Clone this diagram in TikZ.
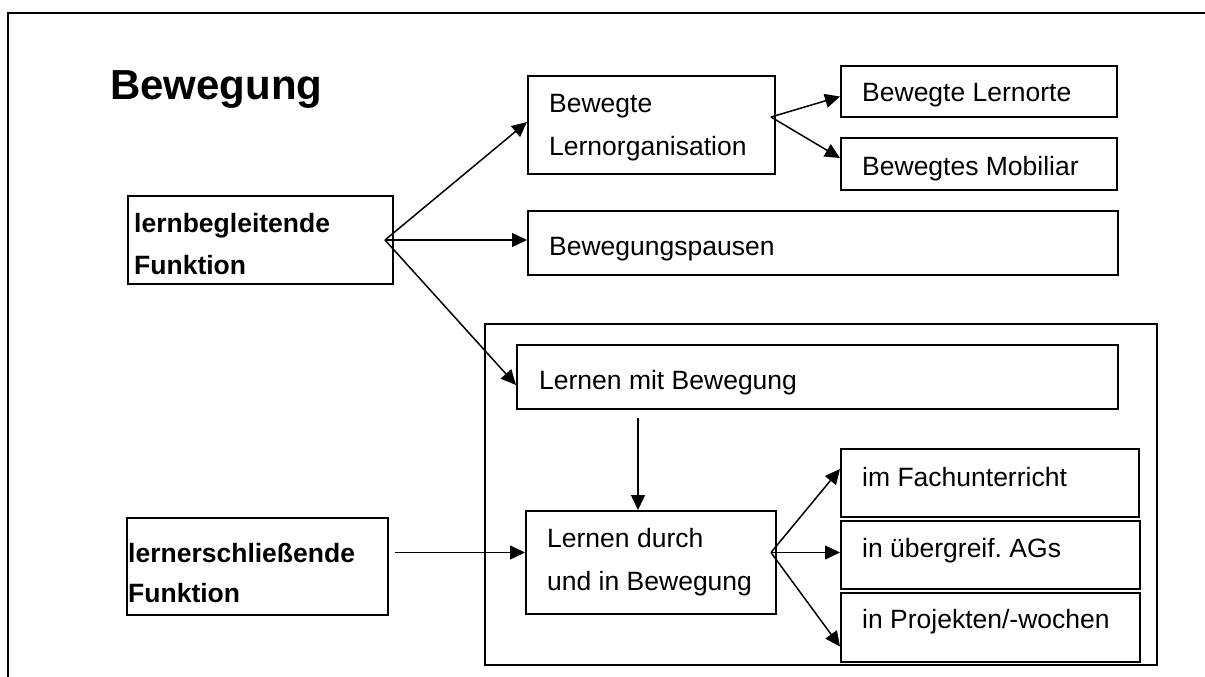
\documentclass[tikz,border=0pt]{standalone}
\usepackage{fontspec}
\setmainfont{Liberation Sans}
\usetikzlibrary{arrows.meta}

\tikzset{
  box/.style={draw, line width=2bp, rectangle, inner sep=0pt},
  txt/.style={anchor=base west, inner sep=0pt, align=left, font=\fontsize{26.5bp}{42bp}\selectfont},
  arr/.style={line width=1.5bp, -{Triangle[length=15bp,width=14bp]}},
}

\begin{document}
\begin{tikzpicture}[x=1bp, y=-1bp]
\useasboundingbox (0,0) rectangle (1205,677);
% frame
\draw[line width=2.4bp] (8,677) -- (8,13) -- (1205,13);

\node[txt, font=\fontsize{42bp}{50bp}\selectfont\bfseries] (title) at (110,100) {Bewegung};

% boxes
\node[box, minimum width=265bp, minimum height=88bp] (lb) at (260.5,240) {};
\node[box, minimum width=261bp, minimum height=97bp] (ls) at (257.5,566.5) {};
\node[box, minimum width=247bp, minimum height=98bp] (org) at (651.5,125) {};
\node[box, minimum width=276bp, minimum height=51bp] (lorte) at (979,91.5) {};
\node[box, minimum width=276bp, minimum height=52bp] (mob) at (979,164) {};
\node[box, minimum width=590bp, minimum height=64bp] (paus) at (823,243) {};
\node[box, minimum width=672bp, minimum height=341bp, line width=1.7bp] (grp) at (821,494.5) {};
\node[box, minimum width=601bp, minimum height=64bp] (lmb) at (817.5,377) {};
\node[box, minimum width=250bp, minimum height=103bp] (ldb) at (651,562.5) {};
\node[box, minimum width=298bp, minimum height=68bp] (fach) at (990,483) {};
\node[box, minimum width=299bp, minimum height=68bp] (ags) at (990.5,555) {};
\node[box, minimum width=299bp, minimum height=69bp] (proj) at (990.5,627.5) {};

% texts (base = last line)
\node[txt, font=\fontsize{26.5bp}{41bp}\selectfont\bfseries] (lb-t) at (134,274) {lernbegleitende\\Funktion};
\node[txt, font=\fontsize{26.5bp}{40bp}\selectfont\bfseries] (ls-t) at (128,602) {lernerschließende\\Funktion};
\node[txt, font=\fontsize{26.5bp}{43bp}\selectfont] (org-t) at (549,156) {Bewegte\\Lernorganisation};
\node[txt] (lorte-t) at (862,102) {Bewegte Lernorte};
\node[txt] (mob-t) at (862,176) {Bewegtes Mobiliar};
\node[txt] (paus-t) at (549,255) {Bewegungspausen};
\node[txt] (lmb-t) at (539,389) {Lernen mit Bewegung};
\node[txt, font=\fontsize{26.5bp}{43bp}\selectfont] (ldb-t) at (547,590) {Lernen durch\\und in Bewegung};
\node[txt] (fach-t) at (862,486) {im Fachunterricht};
\node[txt] (ags-t) at (862,557) {in übergreif.\ AGs};
\node[txt] (proj-t) at (862,628) {in Projekten/-wochen};

% arrows
\coordinate (lbfan) at ([xshift=-9bp]lb.east);
\draw[arr] (lbfan) -- ([yshift=3bp]org.west);
\draw[arr] (lbfan) -- (lbfan -| paus.west);
\draw[arr] (lbfan) -- ([yshift=-8bp]lmb.west);

\coordinate (orgfan) at ([xshift=-5bp,yshift=8bp]org.east);
\draw[arr] (orgfan) -- ([yshift=-5bp]lorte.west);
\draw[arr] (orgfan) -- ([yshift=6bp]mob.west);

\draw[arr] ([xshift=-13bp,yshift=-8bp]ldb.north |- lmb.south) -- ([xshift=-13bp]ldb.north);

\coordinate (ldbfan) at ([xshift=-6bp,yshift=10bp]ldb.east);
\draw[arr] ([xshift=6bp]ls.east |- ldbfan) -- (ldbfan -| ldb.west);
\draw[arr] (ldbfan) -- ([yshift=14bp]fach.west);
\draw[arr] (ldbfan) -- (ldbfan -| ags.west);
\draw[arr] (ldbfan) -- ([yshift=-19bp]proj.west);
\end{tikzpicture}
\end{document}
